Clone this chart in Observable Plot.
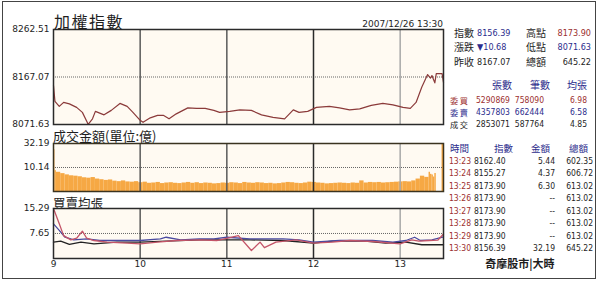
<!DOCTYPE html>
<html><head><meta charset="utf-8">
<script src="https://cdn.jsdelivr.net/npm/d3@7"></script>
<script src="https://cdn.jsdelivr.net/npm/@observablehq/plot@0.6"></script>
<style>
html,body{margin:0;padding:0;background:#fff;overflow:hidden;}
#wrap{position:relative;width:600px;height:287px;overflow:hidden;font-family:"DejaVu Sans",Verdana,sans-serif;}
.t{position:absolute;white-space:nowrap;line-height:1;}
.num{font-family:"DejaVu Sans Condensed","DejaVu Sans",sans-serif;}
.cjk{font-family:"Noto Sans CJK TC","Noto Sans CJK SC",sans-serif;}
#frame{position:absolute;left:2px;top:1px;width:594px;height:278px;border:1px solid #444;box-sizing:border-box;}
</style></head><body><div id="wrap"><div id="frame"></div></div>
<script>
// ---------- data ----------
const titleMain = "加權指數";
const titleAmt = "成交金額(單位:億)";
const titleAvg = "買賣均張";
const stamp = "2007/12/26 13:30";
const footer = "奇摩股市|大時";

const priceTimes = ["09:00","09:01","09:04","09:07","09:11","09:16","09:20","09:24","09:27","09:29","09:35","09:40","09:46","09:51","09:55","10:00","10:02","10:07","10:12","10:16","10:20","10:25","10:33","10:39","10:45","10:51","10:55","11:02","11:09","11:17","11:24","11:32","11:40","11:46","11:50","11:56","12:02","12:11","12:18","12:25","12:32","12:40","12:48","12:55","13:02","13:07","13:11","13:15","13:19","13:21","13:22","13:23","13:24","13:25","13:26","13:27","13:28","13:29","13:30"];
const priceValues = [8150,8118,8108,8116,8113,8106,8096,8072,8083,8098,8091,8100,8114,8108,8096,8080,8076,8085,8090,8090,8083,8093,8105,8104,8104,8100,8096,8098,8101,8100,8091,8086,8083,8101,8096,8098,8106,8108,8105,8101,8103,8110,8114,8111,8106,8104,8116,8147,8172,8165,8170,8162.40,8155.27,8173.90,8173.90,8173.90,8173.90,8173.90,8156.39];
const priceTicks = [8071.63, 8167.07, 8262.51];

// amount bins, labelled by the end of each bin
const amtTimes = ["09:01","09:02","09:05","09:08","09:11","09:14","09:17","09:20","09:23","09:26","09:29","09:32","09:35","09:38","09:41","09:44","09:47","09:50","09:53","09:56","09:59",
"10:02","10:05","10:08","10:11","10:14","10:17","10:20","10:23","10:26","10:29","10:32","10:35","10:38","10:41","10:44","10:47","10:50","10:53","10:56","10:59",
"11:02","11:05","11:08","11:11","11:14","11:17","11:20","11:23","11:26","11:29","11:32","11:35","11:38","11:41","11:44","11:47","11:50","11:53","11:56","11:59",
"12:02","12:05","12:08","12:11","12:14","12:17","12:20","12:23","12:26","12:29","12:32","12:35","12:38","12:41","12:44","12:47","12:50","12:53","12:56","12:59",
"13:02","13:05","13:08","13:11","13:14","13:17","13:20","13:21","13:22","13:23","13:24","13:25","13:26","13:27","13:28","13:29","13:30"];
const amtValues = [25.5,8.0,7.0,6.2,5.5,5.0,4.8,4.5,4.0,3.8,4.1,3.4,3.1,2.8,3.0,2.5,2.3,2.6,2.2,2.1,2.3,
1.9,2.1,1.7,1.8,2.0,1.6,1.8,1.9,1.7,1.6,1.8,2.0,1.7,1.9,1.6,1.8,1.7,1.5,1.6,1.8,
1.7,1.9,1.8,1.6,2.0,1.8,1.7,1.9,1.8,1.6,1.7,1.5,1.6,1.8,2.0,1.9,1.7,1.6,1.8,2.1,
2.0,1.8,1.7,1.5,1.6,1.7,1.8,1.7,1.6,1.8,1.7,2.6,1.8,2.0,1.9,2.0,1.8,1.9,2.0,2.1,
2.2,2.3,2.2,2.6,3.4,4.8,4.2,7.0,5.8,5.44,4.37,6.30,null,null,null,null,32.19];
const amtTicks = [10.14, 32.19];

const buyTimes = ["09:00","09:04","09:07","09:12","09:16","09:20","09:23","09:28","09:37","09:51","10:00","10:12","10:25","10:41","10:53","11:08","11:17","11:23","11:26","11:34","11:48","12:00","12:13","12:25","12:41","13:00","13:08","13:13","13:20","13:26","13:30"];
const buyValues = [15.29,10.6,7.0,5.7,6.2,8.35,6.2,5.5,5.0,4.7,4.5,5.0,5.5,5.7,5.5,7.0,2.45,5.0,3.3,5.0,5.7,4.7,5.0,5.5,5.2,4.5,5.7,5.3,5.5,5.6,7.5];
const sellTimes = ["09:00","09:04","09:08","09:14","09:23","09:32","09:46","10:00","10:14","10:18","10:28","10:41","10:51","11:00","11:16","11:39","11:50","12:00","12:18","12:41","12:55","13:04","13:10","13:14","13:22","13:30"];
const sellValues = [10.6,8.6,6.5,5.7,6.0,5.5,5.5,5.5,6.0,6.5,5.7,6.0,6.0,6.5,6.0,6.0,5.7,5.0,5.5,5.5,5.0,5.5,6.5,5.5,5.7,6.6];
const dealTimes = ["09:00","09:05","09:11","09:19","09:28","09:44","10:00","10:18","10:41","10:55","11:16","11:39","12:00","12:13","12:36","12:50","13:04","13:15","13:25","13:30"];
const dealValues = [5.0,5.3,4.3,5.0,4.5,5.0,5.0,5.3,5.7,5.7,5.7,5.5,4.7,5.3,5.3,4.7,5.0,4.2,4.2,4.2];
const avgTicks = [7.65, 15.29];

const hourTicks = [9, 10, 11, 12, 13];
const sessionEnd = "13:30";

// right-hand tables
const sumLabels = [["指數","高點"],["漲跌","低點"],["昨收","總額"]];
const sumValues = [["8156.39","8173.90"],["▼10.68","8071.63"],["8167.07","645.22"]];
const bookHeads = ["張數","筆數","均張"];
const bookLabels = ["委買","委賣","成交"];
const bookLots = [5290869, 4357803, 2853071];
const bookCounts = [758090, 662444, 587764];
const bookAvg = [6.98, 6.58, 4.85];
const tickHeads = ["時間","指數","金額","總額"];
const tickTimes = ["13:23","13:24","13:25","13:26","13:27","13:28","13:29","13:30"];
const tickIndex = [8162.40, 8155.27, 8173.90, 8173.90, 8173.90, 8173.90, 8173.90, 8156.39];
const tickAmt = [5.44, 4.37, 6.30, null, null, null, null, 32.19];
const tickTotal = [602.35, 606.72, 613.02, 613.02, 613.02, 613.02, 613.02, 645.22];

// ---------- helpers ----------
const toH = s => { const [h, m] = s.split(":").map(Number); return h + m / 60; };
const xDomain = [hourTicks[0], toH(sessionEnd)];
const wrap = document.getElementById("wrap");
const BG = "#fffaf2";
const RED = "#9c2f2f", BLUE = "#2c2c8c", INK = "#1e1e1e";

function txt(s, x, y, o = {}) {
  const e = document.createElement("span");
  e.className = "t" + (o.cjk ? " cjk" : "") + (o.num ? " num" : "");
  e.textContent = s;
  e.style.fontSize = (o.size || 9) + "px";
  e.style.color = o.color || INK;
  if (o.weight) e.style.fontWeight = o.weight;
  if (o.ls) e.style.letterSpacing = o.ls + "px";
  e.style.top = y + "px";
  if (o.align === "right") { e.style.right = (600 - x) + "px"; e.style.transform = "translateY(-50%)"; }
  else if (o.align === "center") { e.style.left = x + "px"; e.style.transform = "translate(-50%,-50%)"; }
  else { e.style.left = x + "px"; e.style.transform = "translateY(-50%)"; }
  wrap.appendChild(e);
}
function place(svg, top) {
  svg.style.position = "absolute";
  svg.style.left = "0px";
  svg.style.top = top + "px";
  svg.style.background = "transparent";
  svg.style.overflow = "visible";
  svg.style.maxWidth = "none";
  wrap.appendChild(svg);
}
const common = {
  width: 446, marginLeft: 53, marginRight: 3,
  style: {fontFamily: "DejaVu Sans, Verdana, sans-serif", fontSize: "9px", color: INK, background: "transparent", overflow: "visible"}
};
function grid() {
  return [
    Plot.ruleX(hourTicks.filter(h => h === 10 || h === 11), {stroke: "#5a5a5a", strokeWidth: 1.5}),
    Plot.ruleX(hourTicks.filter(h => h === 12), {stroke: "#2a2a2a", strokeWidth: 1.5}),
    Plot.ruleX(hourTicks.filter(h => h === 13), {stroke: "#a8a8a8", strokeWidth: 1.5})
  ];
}

// ---------- top: index ----------
const priceData = priceTimes.map((t, i) => ({t: toH(t), v: priceValues[i]}));
place(Plot.plot({
  ...common, height: 110, marginTop: 9, marginBottom: 6,
  x: {domain: xDomain, axis: null},
  y: {domain: [priceTicks[0], priceTicks[2]], ticks: priceTicks, tickFormat: d => d.toFixed(2), tickSize: 0, tickPadding: 4, label: null},
  marks: [
    Plot.frame({fill: BG, stroke: "none"}),
    Plot.ruleY([priceTicks[1]], {stroke: "#666", strokeDasharray: "1,1"}),
    ...grid(),
    Plot.line(priceData, {x: "t", y: "v", stroke: "#8b3a3a", strokeWidth: 1.2}),
    Plot.frame({stroke: "#2a2a2a", strokeWidth: 1.5})
  ]
}), 20);

// ---------- middle: amount ----------
const amtData = amtTimes.map((t, i) => ({x1: i === 0 ? xDomain[0] : toH(amtTimes[i - 1]), x2: toH(t), v: amtValues[i]})).filter(d => d.v != null);
place(Plot.plot({
  ...common, height: 62, marginTop: 9, marginBottom: 5,
  x: {domain: xDomain, axis: null},
  y: {type: "pow", exponent: 0.6, domain: [0, amtTicks[1]], ticks: amtTicks, tickFormat: d => d.toFixed(2), tickSize: 0, tickPadding: 4, label: null},
  marks: [
    Plot.frame({fill: BG, stroke: "none"}),
    Plot.rectY(amtData, {x1: "x1", x2: "x2", y: "v", fill: "#f6a844", inset: 0}),
    Plot.ruleY([amtTicks[0]], {stroke: "#666", strokeDasharray: "1,1"}),
    ...grid(),
    Plot.frame({stroke: "#3a3320", strokeWidth: 1.5})
  ]
}), 134);

// ---------- bottom: average lots ----------
const series = (times, vals) => times.map((t, i) => ({t: toH(t), v: vals[i]}));
place(Plot.plot({
  ...common, height: 80, marginTop: 9, marginBottom: 21,
  x: {domain: xDomain, ticks: hourTicks, tickFormat: d => String(d), tickSize: 0, tickPadding: 2, label: null},
  y: {domain: [0, avgTicks[1]], ticks: avgTicks, tickFormat: d => d.toFixed(2), tickSize: 0, tickPadding: 4, label: null},
  marks: [
    Plot.frame({fill: BG, stroke: "none"}),
    Plot.ruleY([avgTicks[0]], {stroke: "#666", strokeDasharray: "1,1"}),
    ...grid(),
    Plot.line(series(dealTimes, dealValues), {x: "t", y: "v", stroke: "#222", strokeWidth: 1.3}),
    Plot.line(series(sellTimes, sellValues), {x: "t", y: "v", stroke: "#4a4aa0", strokeWidth: 1.3}),
    Plot.line(series(buyTimes, buyValues), {x: "t", y: "v", stroke: "#c45468", strokeWidth: 1.3}),
    Plot.frame({stroke: "#2a2a2a", strokeWidth: 1.5})
  ]
}), 199);

// ---------- titles ----------
txt(titleMain, 54, 21, {cjk: true, size: 16, ls: 1.5});
txt(stamp, 443, 24, {align: "right", size: 9});
txt(titleAmt, 53, 135, {cjk: true, size: 13});
txt(titleAvg, 53, 203, {cjk: true, size: 12.5});

// ---------- summary table ----------
const sumY = [33, 47, 61.5];
const sumColors = [[BLUE, RED], [BLUE, BLUE], [INK, INK]];
sumY.forEach((y, r) => {
  txt(sumLabels[r][0], 454, y, {cjk: true, size: 10});
  txt(sumValues[r][0], 477, y, {num: true, color: sumColors[r][0]});
  txt(sumLabels[r][1], 526, y, {cjk: true, size: 10});
  txt(sumValues[r][1], 591, y, {num: true, align: "right", color: sumColors[r][1]});
});

// ---------- order book ----------
const bookHeadX = [512, 550, 587];
bookHeads.forEach((h, i) => txt(h, bookHeadX[i], 85, {cjk: true, size: 10, color: BLUE, align: "right"}));
const bookY = [100, 112, 124];
const bookColors = [RED, BLUE, INK];
bookLabels.forEach((l, r) => {
  const c = bookColors[r];
  txt(l, 450, bookY[r], {cjk: true, size: 8.2, ls: 1.5, color: c});
  txt(String(bookLots[r]), 510, bookY[r], {num: true, size: 8.5, align: "right", color: c});
  txt(String(bookCounts[r]), 544, bookY[r], {num: true, size: 8.5, align: "right", color: c});
  txt(bookAvg[r].toFixed(2), 587, bookY[r], {num: true, size: 8.5, align: "right", color: c});
});

// ---------- tick table ----------
txt(tickHeads[0], 450, 149, {cjk: true, size: 9.5, color: BLUE});
txt(tickHeads[1], 513, 149, {cjk: true, size: 9.5, color: BLUE, align: "right"});
txt(tickHeads[2], 550, 149, {cjk: true, size: 9.5, color: BLUE, align: "right"});
txt(tickHeads[3], 588, 149, {cjk: true, size: 9.5, color: BLUE, align: "right"});
tickTimes.forEach((t, r) => {
  const y = 160.5 + r * 12.55;
  txt(t, 449, y, {num: true, size: 8.5, color: RED});
  txt(tickIndex[r].toFixed(2), 474, y, {num: true, size: 8.5});
  txt(tickAmt[r] == null ? "--" : tickAmt[r].toFixed(2), 555, y, {num: true, size: 8.5, align: "right"});
  txt(tickTotal[r].toFixed(2), 593, y, {num: true, size: 8.5, align: "right"});
});
txt(footer, 520, 263, {cjk: true, size: 11, weight: "bold", align: "center"});
</script></body></html>
